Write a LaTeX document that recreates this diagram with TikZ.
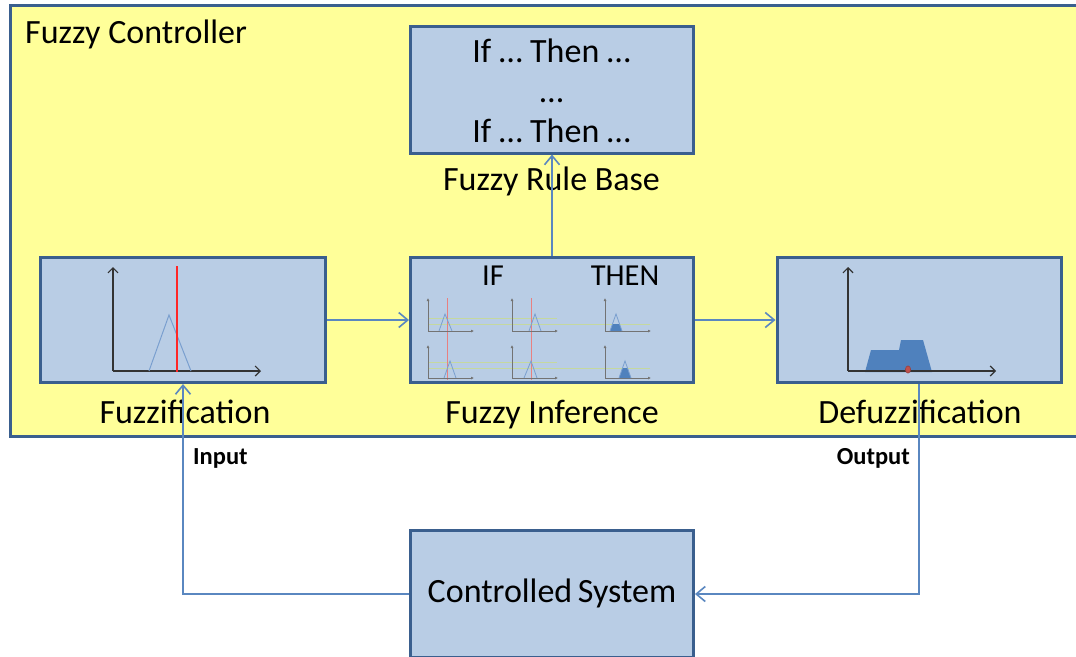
\documentclass[tikz,border=0pt]{standalone}
\usepackage{fontspec}
\setmainfont{Carlito}
\usetikzlibrary{arrows.meta}
\definecolor{boxfill}{HTML}{B9CDE5}
\definecolor{boxline}{HTML}{3A5F8E}
\definecolor{panel}{HTML}{FFFF99}
\definecolor{link}{HTML}{5A87C0}
\definecolor{memb}{HTML}{7A9FCF}
\definecolor{cut}{HTML}{E88080}
\definecolor{level}{HTML}{C5D89F}
\definecolor{mass}{HTML}{4F81BD}
\definecolor{cog}{HTML}{C0504D}
\begin{document}
\begin{tikzpicture}[x=1pt,y=-1pt,
  block/.style={draw=boxline, fill=boxfill, line width=3pt, inner sep=0pt,
                minimum width=283pt, minimum height=125pt},
  caption/.style={font=\fontsize{34}{40}\selectfont, inner sep=0pt},
  tag/.style={font=\fontsize{24.5}{28}\selectfont\bfseries, inner sep=0pt},
  conn/.style={draw=link, line width=1.6pt,
               -{Straight Barb[length=9pt,width=15pt,line width=1.6pt]}},
  axis/.style={draw=black!80, line width=1.2pt,
               -{Straight Barb[length=5pt,width=10pt,line width=1.2pt]}},
  miniaxis/.style={draw=black!55, line width=0.8pt, -{Latex[length=3pt,width=3pt]}},
  membership/.style={draw=memb, line width=1pt},
  minimemb/.style={draw=memb, line width=0.8pt},
  crisp/.style={draw=cut, line width=1pt},
  alpha/.style={draw=level, line width=0.8pt},
]
\fill[white] (0,0) rectangle (1076,656);
\clip (0,0) rectangle (1076,656);

% controller frame
\node[draw=boxline, fill=panel, line width=3pt, inner sep=0pt,
      minimum width=1072pt, minimum height=431pt] (ctrl) at (546,220.5) {};
\node[caption, anchor=base west] (ctrltitle) at (25,43) {Fuzzy Controller};

% blocks
\node[block, minimum height=127pt] (rules) at (552,89.5) {};
\node[block, minimum width=285pt] (fuzz) at (183,320) {};
\node[block] (infer) at (552,320) {};
\node[block, minimum width=284pt] (defuzz) at (919,320) {};
\node[block, minimum height=127pt] (sys) at (552,594) {};

% block texts and captions
\node[caption, align=center] (ruletext) at (551.5,91) {If … Then …\\…\\If … Then …};
\node[caption, anchor=base] (rulecap) at (551.5,190) {Fuzzy Rule Base};
\node[caption, anchor=base] (fuzzcap) at (185,423) {Fuzzification};
\node[caption, anchor=base] (infercap) at (552,423) {Fuzzy Inference};
\node[caption, anchor=base] (defuzzcap) at (920,423) {Defuzzification};
\node[caption, anchor=base] (systext) at (552,602) {Controlled\,System};
\node[font=\fontsize{30.5}{34}\selectfont, inner sep=0pt, anchor=base] (iftext) at (493,285) {IF};
\node[font=\fontsize{30.5}{34}\selectfont, inner sep=0pt, anchor=base] (thentext) at (625,285) {THEN};

% connectors
\draw[conn] (fuzz.east) -- (infer.west);
\draw[conn] (infer.east) -- (defuzz.west);
\draw[conn] (infer.north) -- (rules.south);
\draw[conn] (sys.west) -| (fuzz.south);
\draw[conn] (defuzz.south) |- (sys.east);
\node[tag, anchor=base west] (inlabel) at (193,464) {Input};
\node[tag, anchor=base east] (outlabel) at (910,464) {Output};

% fuzzification: singleton input against a triangular set
\draw[axis] (113,371) -- (113,267);
\draw[axis] (113,371) -- (261,371);
\draw[membership] (149,371) -- (169,315) -- (191,371);
\draw[crisp, line width=1.6pt, draw=red!85!white] (177,266) -- (177,372);

% inference: rule evaluation grid
\foreach \r/\lo/\hi in {0/318/324, 47/362/368}{
  \draw[alpha] (428,\lo) -- (557,\lo);
  \draw[alpha] (428,\hi) -- (650,\hi);
}
\draw[crisp] (447,298) -- (447,380);
\draw[crisp] (531,298) -- (531,380);
\foreach \ox/\oy in {428/331, 512/331, 605/331, 428/378, 512/378, 605/378}{
  \draw[miniaxis] (\ox,\oy) -- (\ox,\oy-33);
  \draw[miniaxis] (\ox,\oy) -- (\ox+46,\oy);
}
\draw[minimemb] (439,331) -- (445,314) -- (452,331);
\draw[minimemb] (529,331) -- (535,314) -- (541,331);
\draw[minimemb] (444,378) -- (450,361) -- (456,378);
\draw[minimemb] (524,378) -- (531,361) -- (537,378);
\fill[mass] (610,331) -- (612.5,324) -- (619.5,324) -- (622,331) -- cycle;
\draw[minimemb] (610,331) -- (616,314) -- (622,331);
\fill[mass] (619,378) -- (622.5,368) -- (627.5,368) -- (631,378) -- cycle;
\draw[minimemb] (619,378) -- (625,361) -- (631,378);

% defuzzification: aggregated output set and its centroid
\fill[mass] (865,372) -- (871,350) -- (899,350) -- (901,340) -- (923,340) -- (932,372) -- cycle;
\draw[axis] (848,371) -- (848,267);
\draw[axis] (848,371) -- (996,371);
\filldraw[fill=cog, draw=cog!80!black, line width=0.6pt] (908,369.5) ellipse (2.6 and 3.6);
\end{tikzpicture}
\end{document}
